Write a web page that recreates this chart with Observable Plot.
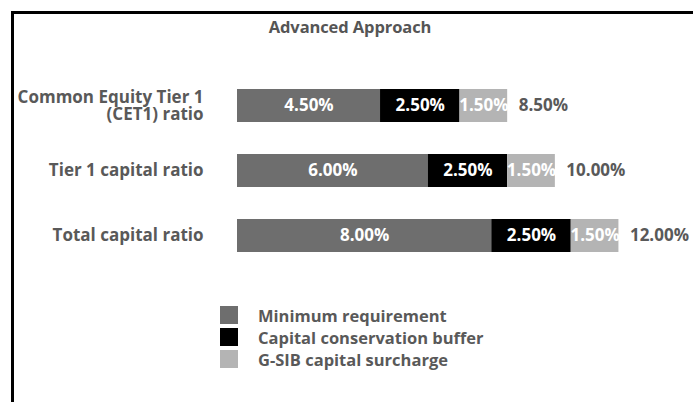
<!DOCTYPE html>
<html>
<head>
<meta charset="utf-8">
<script src="https://cdn.jsdelivr.net/npm/d3@7"></script>
<script src="https://cdn.jsdelivr.net/npm/@observablehq/plot@0.6"></script>
<style>
  html, body { margin: 0; padding: 0; background: #fff; }
  #wrap { position: relative; width: 693px; height: 402px; overflow: hidden; font-family: "Open Sans", sans-serif; }
  #frame { position: absolute; left: 11px; top: 11px; right: -10px; bottom: -10px; border-left: 3px solid #000; border-top: 3px solid #000; }
  #cut { position: absolute; left: 0; top: 0; width: 693px; height: 5px; overflow: hidden; }
  #cut span { position: absolute; top: -19px; white-space: nowrap; font-weight: 700; font-size: 18px; line-height: 17px; color: #000; }
  #cut span.red { color: #e8a0a0; left: 25px; }
  #cut span.blk { left: 148px; }
  #title { position: absolute; left: 0; width: 700px; top: 17px; text-align: center; font-weight: 700; font-size: 16.5px; line-height: 20px; color: #555; letter-spacing: -0.1px; }
  #chart { position: absolute; left: 0; top: 0; }
  #legend { position: absolute; left: 220px; top: 304px; }
  .row { display: flex; align-items: center; height: 22px; }
  .sw { width: 18px; height: 18px; margin-right: 20px; }
  .lab { font-weight: 700; font-size: 16.5px; color: #595959; }
</style>
</head>
<body>
<div id="wrap">
  <div id="frame"></div>
  <div id="cut"><span class="red">Table 3:</span><span class="blk">Risk-Based Capital Requirements – Advanced Approach</span></div>
  <div id="title">Advanced Approach</div>
  <div id="chart"></div>
  <div id="legend"></div>
</div>
<script>
const categories = ["Common Equity Tier 1\n(CET1) ratio", "Tier 1 capital ratio", "Total capital ratio"];
const components = ["Minimum requirement", "Capital conservation buffer", "G-SIB capital surcharge"];
const minimum = [4.5, 6.0, 8.0];
const buffer = [2.5, 2.5, 2.5];
const surcharge = [1.5, 1.5, 1.5];
const totals = [8.5, 10.0, 12.0];
const colors = ["#6e6e6e", "#000000", "#b4b4b4"];

const series = [minimum, buffer, surcharge];
const rows = [];
categories.forEach((c, i) => {
  components.forEach((k, j) => rows.push({cat: c, comp: k, value: series[j][i]}));
});
const totalRows = categories.map((c, i) => ({cat: c, total: totals[i]}));
const fmt = v => v.toFixed(2) + "%";

const chart = Plot.plot({
  width: 693,
  height: 402,
  marginLeft: 237,
  marginRight: 11,
  marginTop: 72.5,
  marginBottom: 134.5,
  style: {background: "transparent", fontFamily: "Open Sans, sans-serif"},
  x: {domain: [0, 14], axis: null},
  y: {domain: categories, paddingInner: 0.5, paddingOuter: 0.25, label: null},
  color: {domain: components, range: colors},
  marks: [
    Plot.barX(rows, {x: "value", y: "cat", fill: "comp", z: "comp"}),
    Plot.textX(rows, Plot.stackX({x: "value", y: "cat", z: "comp", text: d => fmt(d.value), fill: "white", fontWeight: "bold", fontSize: 17})),
    Plot.text(totalRows, {x: "total", y: "cat", text: d => fmt(d.total), textAnchor: "start", dx: 11, fill: "#595959", fontWeight: "bold", fontSize: 17}),
    Plot.axisY({tickSize: 0, tickPadding: 34, fontSize: 17, fontWeight: "bold", fill: "#595959", label: null, lineHeight: 1.0})
  ]
});
document.getElementById("chart").appendChild(chart);

const legend = document.getElementById("legend");
components.forEach((k, j) => {
  const r = document.createElement("div");
  r.className = "row";
  const s = document.createElement("div");
  s.className = "sw";
  s.style.background = colors[j];
  const t = document.createElement("div");
  t.className = "lab";
  t.textContent = k;
  r.appendChild(s); r.appendChild(t);
  legend.appendChild(r);
});
</script>
</body>
</html>
